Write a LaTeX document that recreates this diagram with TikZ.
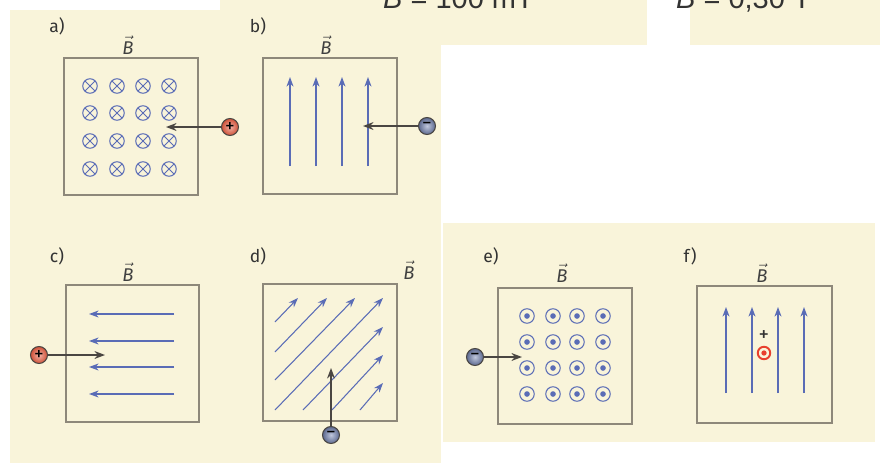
\documentclass[tikz,border=0pt]{standalone}
\usepackage{fontspec}
\setmainfont{Fira Sans}
\newfontfamily\headfont{Liberation Sans}
\usetikzlibrary{arrows.meta}
\definecolor{paper}{HTML}{F9F4DA}
\definecolor{fieldblue}{HTML}{5A6CB6}
\definecolor{framegray}{HTML}{8E887A}
\definecolor{chargedark}{HTML}{4A4642}
\definecolor{posred}{HTML}{E4583C}
\definecolor{negblue}{HTML}{7282B2}
\definecolor{dotred}{HTML}{E8402E}

\begin{document}
\begin{tikzpicture}[x=0.02cm, y=-0.02cm,
  fieldbox/.style={draw=framegray, line width=0.6pt},
  fline/.style={-{Stealth[length=5.5pt,width=4pt]}, fieldblue, line width=0.6pt},
  into/.style={circle, draw=fieldblue, line width=0.6pt, minimum size=0.29cm, inner sep=0pt,
               path picture={\draw[fieldblue, line width=0.6pt]
                 (path picture bounding box.north west) -- (path picture bounding box.south east)
                 (path picture bounding box.north east) -- (path picture bounding box.south west);}},
  outof/.style={circle, draw=fieldblue, line width=0.6pt, minimum size=0.29cm, inner sep=0pt,
               path picture={\fill[fieldblue] (path picture bounding box.center) circle (1.6pt);}},
  poscharge/.style={circle, draw=chargedark, line width=0.6pt, inner color=posred!45!white,
                    outer color=posred!90!black, minimum size=0.34cm, inner sep=0pt,
                    font=\fontsize{11}{11}\selectfont},
  negcharge/.style={circle, draw=chargedark, line width=0.6pt, inner color=negblue!45!white,
                    outer color=negblue!80!black, minimum size=0.34cm, inner sep=0pt,
                    font=\fontsize{11}{11}\selectfont},
  qarrow/.style={-{Stealth[length=6pt,width=4.5pt]}, chargedark, line width=0.9pt},
  lbl/.style={font=\fontsize{10}{12}\selectfont, text=black!80},
  bvec/.style={font=\fontsize{10.5}{12}\selectfont, text=black!75}
]
  \useasboundingbox (0,0) rectangle (880,463);
  \clip (0,0) rectangle (880,463);

  % scanned paper
  \fill[paper] (10,10) rectangle (441,463);
  \fill[paper] (220,0) rectangle (647,45);
  \fill[paper] (690,0) rectangle (880,45);
  \fill[paper] (443,223) rectangle (875,442);

  \node[anchor=base west, font=\headfont\fontsize{16.5}{18}\selectfont, text=black!80] (bval1) at (377,9) {\textit{B} = 100 mT};
  \node[anchor=base west, font=\headfont\fontsize{16.5}{18}\selectfont, text=black!80] (bval2) at (670,9) {\textit{B} = 0,30 T};

  % a)
  \node[lbl] (la) at (57,26) {a)};
  \node[bvec] (ba) at (128,45) {$\vec{\mbox{\itshape B}}$};
  \draw[fieldbox] (64,58) rectangle (198,195);
  \foreach \x in {90,117,143,169}
    \foreach \y in {86,113,141,169}
      \node[into] (a-\x-\y) at (\x,\y) {};
  \node[poscharge] (qa) at (230,127) {+};
  \coordinate (ea) at (166,127);
  \draw[qarrow] (qa) -- (ea);

  % b)
  \node[lbl] (lb) at (258,26) {b)};
  \node[bvec] (bb) at (326,45) {$\vec{\mbox{\itshape B}}$};
  \draw[fieldbox] (263,58) rectangle (397,194);
  \foreach \x in {290,316,342,368}
    \draw[fline] (\x,166) -- (\x,77);
  \node[negcharge] (qb) at (427,126) {\textminus};
  \coordinate (eb) at (363,126);
  \draw[qarrow] (qb) -- (eb);

  % c)
  \node[lbl] (lc) at (57,256) {c)};
  \node[bvec] (bc) at (128,272) {$\vec{\mbox{\itshape B}}$};
  \draw[fieldbox] (66,285) rectangle (199,422);
  \foreach \y in {314,341,367,394}
    \draw[fline] (174,\y) -- (89,\y);
  \node[poscharge] (qc) at (39,355) {+};
  \coordinate (ec) at (105,355);
  \draw[qarrow] (qc) -- (ec);

  % d)
  \node[lbl] (ld) at (258,256) {d)};
  \node[bvec] (bd) at (409,270) {$\vec{\mbox{\itshape B}}$};
  \draw[fieldbox] (263,284) rectangle (397,421);
  \draw[fline] (275,322) -- (298,298);
  \draw[fline] (275,352) -- (327,298);
  \draw[fline] (275,380) -- (355,298);
  \draw[fline] (275,410) -- (383,298);
  \draw[fline] (303,410) -- (383,327);
  \draw[fline] (332,410) -- (383,355);
  \draw[fline] (360,410) -- (383,383);
  \node[negcharge] (qd) at (331,435) {\textminus};
  \coordinate (ed) at (331,368);
  \draw[qarrow] (qd) -- (ed);

  % e)
  \node[lbl] (le) at (491,256) {e)};
  \node[bvec] (be) at (562,273) {$\vec{\mbox{\itshape B}}$};
  \draw[fieldbox] (498,288) rectangle (632,424);
  \foreach \x in {527,553,577,603}
    \foreach \y in {316,342,368,394}
      \node[outof] (e-\x-\y) at (\x,\y) {};
  \node[negcharge] (qe) at (475,357) {\textminus};
  \coordinate (ee) at (522,357);
  \draw[qarrow] (qe) -- (ee);

  % f)
  \node[lbl] (lf) at (690,256) {f)};
  \node[bvec] (bf) at (762,273) {$\vec{\mbox{\itshape B}}$};
  \draw[fieldbox] (697,286) rectangle (832,423);
  \foreach \x in {726,752,778,804}
    \draw[fline] (\x,393) -- (\x,307);
  \node[font=\fontsize{12}{12}\selectfont, text=black!80, inner sep=0pt] (qf) at (764,336) {+};
  \node[circle, draw=dotred, line width=1.1pt, minimum size=0.25cm, inner sep=0pt,
        path picture={\fill[dotred] (path picture bounding box.center) circle (1.5pt);}] (vf) at (764,353) {};
\end{tikzpicture}
\end{document}
